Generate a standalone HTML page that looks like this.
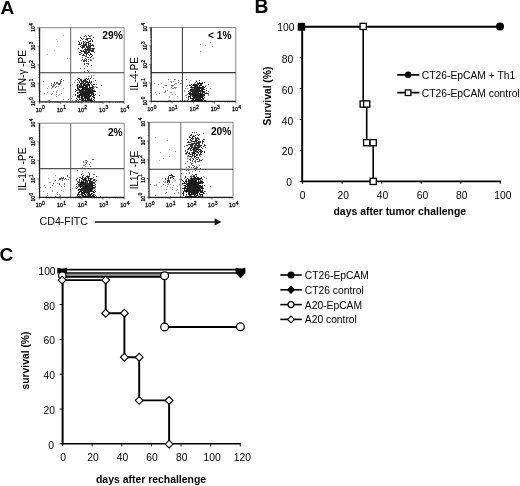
<!DOCTYPE html>
<html><head><meta charset="utf-8"><title>Figure</title>
<style>
html,body{margin:0;padding:0;background:#fff;}
body{width:520px;height:486px;overflow:hidden;}
svg{display:block;}
text{font-family:"Liberation Sans",Arial,Helvetica,sans-serif;fill:#000;}
.b{font-weight:bold;}
</style></head><body>
<svg width="520" height="486" viewBox="0 0 520 486">
<rect width="520" height="486" fill="#fff"/>
<text class="b" x="0.4" y="14.4" font-size="19">A</text>
<text class="b" x="254.5" y="13.2" font-size="19.3">B</text>
<text class="b" x="-0.4" y="261" font-size="19">C</text>
<path d="M39.6 27.7H124.1V101.8" stroke="#777" stroke-width="0.9" fill="none"/>
<path d="M70.7 27.7V101.8" stroke="#666" stroke-width="1" fill="none"/>
<path d="M39.6 72.7H124.1" stroke="#333" stroke-width="1.1" fill="none"/>
<path d="M78 41.5h1M78 44.5h1M78 48.5h1M79 42.5h1M79 43.5h1M79 44.5h1M79 52.5h1M79 54.5h1M80 37.5h1M80 40.5h1M80 44.5h1M80 46.5h1M80 50.5h1M80 52.5h1M81 38.5h1M81 42.5h1M81 43.5h1M81 45.5h1M81 47.5h1M81 50.5h1M81 51.5h1M81 53.5h1M82 39.5h1M82 45.5h1M82 46.5h1M82 47.5h1M82 48.5h1M82 51.5h1M82 55.5h1M83 38.5h1M83 41.5h1M83 42.5h1M83 43.5h1M83 44.5h1M83 45.5h1M83 46.5h1M83 47.5h1M83 50.5h1M83 51.5h1M83 54.5h1M83 55.5h1M84 36.5h1M84 42.5h1M84 44.5h1M84 45.5h1M84 46.5h1M84 47.5h1M84 49.5h1M84 51.5h1M84 52.5h1M84 55.5h1M85 35.5h1M85 39.5h1M85 41.5h1M85 43.5h1M85 44.5h1M85 45.5h1M85 48.5h1M85 49.5h1M85 50.5h1M85 51.5h1M85 52.5h1M85 53.5h1M86 36.5h1M86 38.5h1M86 39.5h1M86 42.5h1M86 43.5h1M86 44.5h1M86 45.5h1M86 46.5h1M86 47.5h1M86 49.5h1M86 50.5h1M86 51.5h1M86 52.5h1M86 54.5h1M87 38.5h1M87 39.5h1M87 40.5h1M87 42.5h1M87 46.5h1M87 47.5h1M87 48.5h1M87 49.5h1M87 50.5h1M87 52.5h1M87 53.5h1M88 35.5h1M88 38.5h1M88 41.5h1M88 42.5h1M88 43.5h1M88 44.5h1M88 45.5h1M88 46.5h1M88 47.5h1M88 48.5h1M88 49.5h1M88 50.5h1M88 51.5h1M88 52.5h1M89 36.5h1M89 38.5h1M89 41.5h1M89 43.5h1M89 45.5h1M89 46.5h1M89 47.5h1M89 48.5h1M89 49.5h1M89 50.5h1M89 51.5h1M89 52.5h1M89 55.5h1M90 36.5h1M90 38.5h1M90 40.5h1M90 41.5h1M90 43.5h1M90 44.5h1M90 45.5h1M90 46.5h1M90 47.5h1M90 49.5h1M90 50.5h1M90 53.5h1M90 54.5h1M91 35.5h1M91 39.5h1M91 45.5h1M91 48.5h1M91 50.5h1M91 51.5h1M91 54.5h1M91 56.5h1M92 40.5h1M92 41.5h1M92 44.5h1M92 45.5h1M92 48.5h1M92 49.5h1M92 50.5h1M92 51.5h1M92 55.5h1M93 37.5h1M93 45.5h1M93 46.5h1M93 48.5h1M93 49.5h1M93 50.5h1M93 51.5h1M94 48.5h1M94 52.5h1" stroke="#000" stroke-width="1.0" stroke-opacity="0.80" fill="none"/>
<path d="M80 54.5h1M80 68.5h1M81 51.5h1M81 60.5h1M82 57.5h1M82 59.5h1M83 54.5h1M83 60.5h1M83 61.5h1M84 52.5h1M84 53.5h1M84 59.5h1M84 60.5h1M84 61.5h1M84 63.5h1M84 64.5h1M84 68.5h1M84 71.5h1M85 56.5h1M85 58.5h1M85 60.5h1M86 53.5h1M86 55.5h1M86 56.5h1M86 59.5h1M86 60.5h1M86 61.5h1M86 63.5h1M87 57.5h1M87 63.5h1M87 66.5h1M87 70.5h1M88 52.5h1M88 54.5h1M88 57.5h1M88 59.5h1M88 61.5h1M88 63.5h1M88 64.5h1M88 71.5h1M90 48.5h1M90 53.5h1M90 54.5h1M90 57.5h1M90 59.5h1M90 60.5h1M91 56.5h1M91 60.5h1M91 65.5h1M93 58.5h1" stroke="#000" stroke-width="1.0" stroke-opacity="0.70" fill="none"/>
<path d="M75 89.5h1M75 91.5h1M75 94.5h1M75 95.5h1M76 90.5h1M76 98.5h1M76 100.5h1M77 79.5h1M77 84.5h1M77 85.5h1M77 86.5h1M77 87.5h1M77 88.5h1M77 92.5h1M77 93.5h1M77 95.5h1M77 96.5h1M77 99.5h1M78 78.5h1M78 80.5h1M78 84.5h1M78 88.5h1M78 89.5h1M78 95.5h1M78 96.5h1M78 97.5h1M78 100.5h1M79 78.5h1M79 81.5h1M79 82.5h1M79 85.5h1M79 86.5h1M79 87.5h1M79 89.5h1M79 90.5h1M79 91.5h1M79 92.5h1M79 94.5h1M79 95.5h1M79 96.5h1M79 97.5h1M79 99.5h1M80 79.5h1M80 80.5h1M80 83.5h1M80 84.5h1M80 86.5h1M80 87.5h1M80 90.5h1M80 91.5h1M80 92.5h1M80 93.5h1M80 94.5h1M80 95.5h1M80 99.5h1M81 79.5h1M81 80.5h1M81 81.5h1M81 82.5h1M81 83.5h1M81 84.5h1M81 85.5h1M81 86.5h1M81 87.5h1M81 89.5h1M81 90.5h1M81 91.5h1M81 92.5h1M81 93.5h1M81 94.5h1M81 95.5h1M81 96.5h1M81 97.5h1M81 98.5h1M81 100.5h1M82 81.5h1M82 83.5h1M82 86.5h1M82 87.5h1M82 88.5h1M82 89.5h1M82 90.5h1M82 91.5h1M82 92.5h1M82 93.5h1M82 94.5h1M82 95.5h1M82 96.5h1M82 97.5h1M82 98.5h1M82 99.5h1M82 100.5h1M83 80.5h1M83 81.5h1M83 82.5h1M83 84.5h1M83 85.5h1M83 86.5h1M83 87.5h1M83 88.5h1M83 89.5h1M83 90.5h1M83 91.5h1M83 92.5h1M83 93.5h1M83 94.5h1M83 95.5h1M83 96.5h1M83 98.5h1M83 99.5h1M83 100.5h1M84 79.5h1M84 80.5h1M84 81.5h1M84 83.5h1M84 84.5h1M84 85.5h1M84 87.5h1M84 88.5h1M84 89.5h1M84 91.5h1M84 92.5h1M84 93.5h1M84 94.5h1M84 95.5h1M84 96.5h1M84 97.5h1M84 98.5h1M84 100.5h1M85 79.5h1M85 80.5h1M85 81.5h1M85 83.5h1M85 85.5h1M85 86.5h1M85 87.5h1M85 88.5h1M85 89.5h1M85 90.5h1M85 91.5h1M85 92.5h1M85 93.5h1M85 94.5h1M85 95.5h1M85 96.5h1M85 97.5h1M85 98.5h1M85 99.5h1M85 100.5h1M85 101.5h1M86 78.5h1M86 81.5h1M86 82.5h1M86 84.5h1M86 85.5h1M86 86.5h1M86 87.5h1M86 88.5h1M86 89.5h1M86 90.5h1M86 91.5h1M86 92.5h1M86 93.5h1M86 94.5h1M86 95.5h1M86 96.5h1M86 97.5h1M86 98.5h1M86 100.5h1M86 101.5h1M87 79.5h1M87 81.5h1M87 82.5h1M87 84.5h1M87 85.5h1M87 86.5h1M87 87.5h1M87 88.5h1M87 89.5h1M87 90.5h1M87 91.5h1M87 92.5h1M87 93.5h1M87 94.5h1M87 95.5h1M87 96.5h1M87 97.5h1M87 98.5h1M87 99.5h1M87 100.5h1M88 78.5h1M88 82.5h1M88 83.5h1M88 84.5h1M88 85.5h1M88 88.5h1M88 89.5h1M88 90.5h1M88 91.5h1M88 92.5h1M88 93.5h1M88 94.5h1M88 95.5h1M88 96.5h1M88 97.5h1M88 98.5h1M88 99.5h1M88 100.5h1M89 80.5h1M89 81.5h1M89 82.5h1M89 84.5h1M89 85.5h1M89 86.5h1M89 87.5h1M89 88.5h1M89 89.5h1M89 90.5h1M89 91.5h1M89 92.5h1M89 93.5h1M89 94.5h1M89 95.5h1M89 96.5h1M89 97.5h1M89 98.5h1M89 99.5h1M89 100.5h1M90 78.5h1M90 83.5h1M90 87.5h1M90 88.5h1M90 89.5h1M90 90.5h1M90 91.5h1M90 92.5h1M90 93.5h1M90 95.5h1M90 96.5h1M90 99.5h1M90 100.5h1M90 101.5h1M91 81.5h1M91 82.5h1M91 84.5h1M91 87.5h1M91 89.5h1M91 90.5h1M91 91.5h1M91 92.5h1M91 93.5h1M91 94.5h1M91 95.5h1M91 98.5h1M91 99.5h1M91 100.5h1M91 101.5h1M92 85.5h1M92 86.5h1M92 87.5h1M92 88.5h1M92 89.5h1M92 90.5h1M92 91.5h1M92 92.5h1M92 93.5h1M92 94.5h1M92 96.5h1M92 100.5h1M93 84.5h1M93 86.5h1M93 88.5h1M93 90.5h1M93 91.5h1M93 93.5h1M93 94.5h1M93 95.5h1M93 96.5h1M93 97.5h1M93 99.5h1M93 101.5h1M94 84.5h1M94 90.5h1M94 91.5h1M94 95.5h1M94 97.5h1M94 98.5h1M94 100.5h1M95 80.5h1M95 91.5h1M95 94.5h1M96 87.5h1" stroke="#000" stroke-width="1.0" stroke-opacity="0.85" fill="none"/>
<path d="M70 85.5h1M72 96.5h1M72 100.5h1M74 82.5h1M75 80.5h1M75 94.5h1M75 100.5h1M76 85.5h1M77 82.5h1M77 89.5h1M77 90.5h1M77 92.5h1M77 97.5h1M78 86.5h1M78 87.5h1M78 89.5h1M78 90.5h1M78 92.5h1M78 93.5h1M79 86.5h1M79 95.5h1M79 96.5h1M79 98.5h1M80 84.5h1M80 85.5h1M80 94.5h1M80 97.5h1M81 85.5h1M81 94.5h1M81 99.5h1M82 82.5h1M82 85.5h1M82 86.5h1M82 89.5h1M82 92.5h1M82 99.5h1M82 100.5h1M83 83.5h1M83 84.5h1M83 88.5h1M83 89.5h1M83 93.5h1M84 85.5h1M84 89.5h1M84 90.5h1M84 94.5h1M84 95.5h1M84 96.5h1M85 78.5h1M85 82.5h1M85 84.5h1M85 85.5h1M85 86.5h1M85 87.5h1M85 93.5h1M85 94.5h1M85 97.5h1M85 100.5h1M86 80.5h1M86 82.5h1M86 89.5h1M86 92.5h1M86 96.5h1M86 97.5h1M87 83.5h1M87 88.5h1M87 92.5h1M87 98.5h1M88 76.5h1M88 79.5h1M88 84.5h1M88 90.5h1M88 92.5h1M88 95.5h1M89 76.5h1M89 81.5h1M89 82.5h1M89 86.5h1M89 88.5h1M89 90.5h1M89 91.5h1M89 93.5h1M89 95.5h1M89 100.5h1M90 82.5h1M90 88.5h1M91 75.5h1M91 76.5h1M91 77.5h1M91 81.5h1M91 84.5h1M91 87.5h1M91 88.5h1M91 97.5h1M91 100.5h1M92 85.5h1M92 90.5h1M92 92.5h1M92 96.5h1M93 75.5h1M93 78.5h1M93 81.5h1M93 87.5h1M93 92.5h1M93 94.5h1M94 87.5h1M94 90.5h1M94 97.5h1M95 86.5h1M95 91.5h1M96 84.5h1M97 87.5h1M99 95.5h1M101 85.5h1" stroke="#000" stroke-width="1.0" stroke-opacity="0.50" fill="none"/>
<path d="M51 83.5h1M51 85.5h1M52 86.5h1M52 87.5h1M53 84.5h1M53 85.5h1M53 86.5h1M54 82.5h1M54 83.5h1M55 84.5h1M55 87.5h1M56 82.5h1M56 83.5h1M56 86.5h1M57 82.5h1M58 83.5h1M58 84.5h1M59 83.5h1M59 84.5h1M60 80.5h1M60 81.5h1M60 82.5h1M60 83.5h1M61 79.5h1M61 81.5h1M63 80.5h1" stroke="#000" stroke-width="1.0" stroke-opacity="0.65" fill="none"/>
<path d="M40 91.5h1M43 81.5h1M44 93.5h1M47 88.5h1M47 92.5h1M48 86.5h1M48 100.5h1M49 100.5h1M51 84.5h1M51 88.5h1M51 94.5h1M52 93.5h1M53 91.5h1M54 83.5h1M54 85.5h1M56 91.5h1M56 92.5h1M56 94.5h1M56 96.5h1M57 83.5h1M57 90.5h1M58 86.5h1M58 95.5h1M59 84.5h1M59 94.5h1M61 93.5h1M63 88.5h1M63 99.5h1M68 99.5h1M71 98.5h1M72 84.5h1M73 94.5h1" stroke="#000" stroke-width="1.0" stroke-opacity="0.40" fill="none"/>
<path d="M47 54.5h1M54 50.5h1M56 39.5h1M57 41.5h1M63 35.5h1M67 58.5h1" stroke="#000" stroke-width="1.0" stroke-opacity="0.30" fill="none"/>
<path d="M39.6 27.7V101.8H124.1" stroke="#222" stroke-width="1.2" fill="none"/>
<path d="M39.60 101.8v2.2M39.6 101.80h-2.2M45.96 101.8v1.1M39.6 96.22h-1.1M49.68 101.8v1.1M39.6 92.96h-1.1M52.32 101.8v1.1M39.6 90.65h-1.1M54.37 101.8v1.1M39.6 88.85h-1.1M56.04 101.8v1.1M39.6 87.38h-1.1M57.45 101.8v1.1M39.6 86.14h-1.1M58.68 101.8v1.1M39.6 85.07h-1.1M59.76 101.8v1.1M39.6 84.12h-1.1M60.73 101.8v2.2M39.6 83.28h-2.2M67.08 101.8v1.1M39.6 77.70h-1.1M70.80 101.8v1.1M39.6 74.44h-1.1M73.44 101.8v1.1M39.6 72.12h-1.1M75.49 101.8v1.1M39.6 70.33h-1.1M77.16 101.8v1.1M39.6 68.86h-1.1M78.58 101.8v1.1M39.6 67.62h-1.1M79.80 101.8v1.1M39.6 66.55h-1.1M80.88 101.8v1.1M39.6 65.60h-1.1M81.85 101.8v2.2M39.6 64.75h-2.2M88.21 101.8v1.1M39.6 59.17h-1.1M91.93 101.8v1.1M39.6 55.91h-1.1M94.57 101.8v1.1M39.6 53.60h-1.1M96.62 101.8v1.1M39.6 51.80h-1.1M98.29 101.8v1.1M39.6 50.33h-1.1M99.70 101.8v1.1M39.6 49.09h-1.1M100.93 101.8v1.1M39.6 48.02h-1.1M102.01 101.8v1.1M39.6 47.07h-1.1M102.97 101.8v2.2M39.6 46.23h-2.2M109.33 101.8v1.1M39.6 40.65h-1.1M113.05 101.8v1.1M39.6 37.39h-1.1M115.69 101.8v1.1M39.6 35.07h-1.1M117.74 101.8v1.1M39.6 33.28h-1.1M119.41 101.8v1.1M39.6 31.81h-1.1M120.83 101.8v1.1M39.6 30.57h-1.1M122.05 101.8v1.1M39.6 29.50h-1.1M123.13 101.8v1.1M39.6 28.55h-1.1M124.10 101.8v2.2M39.6 27.70h-2.2" stroke="#222" stroke-width="0.6" fill="none"/>
<text font-size="5.5" text-anchor="middle" x="40.3" y="111.5" stroke="#111" stroke-width="0.3">10<tspan dx="0.3" dy="-2.4" font-size="5">0</tspan></text>
<g transform="translate(35.2,101.6) rotate(-90)"><text font-size="5" text-anchor="middle" x="0" y="0" stroke="#111" stroke-width="0.3">10<tspan dx="0.5" dy="-2.3" font-size="4.6">0</tspan></text></g>
<text font-size="5.5" text-anchor="middle" x="61.4" y="111.5" stroke="#111" stroke-width="0.3">10<tspan dx="0.3" dy="-2.4" font-size="5">1</tspan></text>
<g transform="translate(35.2,83.1) rotate(-90)"><text font-size="5" text-anchor="middle" x="0" y="0" stroke="#111" stroke-width="0.3">10<tspan dx="0.5" dy="-2.3" font-size="4.6">1</tspan></text></g>
<text font-size="5.5" text-anchor="middle" x="82.5" y="111.5" stroke="#111" stroke-width="0.3">10<tspan dx="0.3" dy="-2.4" font-size="5">2</tspan></text>
<g transform="translate(35.2,64.5) rotate(-90)"><text font-size="5" text-anchor="middle" x="0" y="0" stroke="#111" stroke-width="0.3">10<tspan dx="0.5" dy="-2.3" font-size="4.6">2</tspan></text></g>
<text font-size="5.5" text-anchor="middle" x="103.7" y="111.5" stroke="#111" stroke-width="0.3">10<tspan dx="0.3" dy="-2.4" font-size="5">3</tspan></text>
<g transform="translate(35.2,46.0) rotate(-90)"><text font-size="5" text-anchor="middle" x="0" y="0" stroke="#111" stroke-width="0.3">10<tspan dx="0.5" dy="-2.3" font-size="4.6">3</tspan></text></g>
<text font-size="5.5" text-anchor="middle" x="124.8" y="111.5" stroke="#111" stroke-width="0.3">10<tspan dx="0.3" dy="-2.4" font-size="5">4</tspan></text>
<g transform="translate(35.2,27.5) rotate(-90)"><text font-size="5" text-anchor="middle" x="0" y="0" stroke="#111" stroke-width="0.3">10<tspan dx="0.5" dy="-2.3" font-size="4.6">4</tspan></text></g>
<g transform="translate(25.8,72.1) rotate(-90) scale(1,1.10)"><text font-size="10.05" text-anchor="middle">IFN-γ -PE</text></g>
<text class="b" font-size="10.2" text-anchor="end" x="122.7" y="39.2">29%</text>
<path d="M151.2 27.5H235.8V101.3" stroke="#777" stroke-width="0.9" fill="none"/>
<path d="M182.4 27.5V101.3" stroke="#333" stroke-width="1" fill="none"/>
<path d="M151.2 72.6H235.8" stroke="#333" stroke-width="1.1" fill="none"/>
<path d="M188 91.5h1M188 93.5h1M188 96.5h1M188 97.5h1M188 99.5h1M189 85.5h1M189 92.5h1M189 93.5h1M189 94.5h1M189 96.5h1M190 85.5h1M190 87.5h1M190 89.5h1M190 90.5h1M190 92.5h1M190 93.5h1M190 94.5h1M190 95.5h1M190 96.5h1M190 97.5h1M190 98.5h1M191 84.5h1M191 86.5h1M191 87.5h1M191 89.5h1M191 90.5h1M191 91.5h1M191 93.5h1M191 94.5h1M191 98.5h1M191 100.5h1M192 85.5h1M192 87.5h1M192 89.5h1M192 90.5h1M192 91.5h1M192 92.5h1M192 93.5h1M192 94.5h1M192 95.5h1M192 96.5h1M192 98.5h1M192 99.5h1M192 100.5h1M193 84.5h1M193 85.5h1M193 87.5h1M193 89.5h1M193 90.5h1M193 91.5h1M193 92.5h1M193 93.5h1M193 94.5h1M193 95.5h1M193 96.5h1M193 97.5h1M193 98.5h1M193 99.5h1M193 100.5h1M194 84.5h1M194 85.5h1M194 86.5h1M194 87.5h1M194 88.5h1M194 89.5h1M194 90.5h1M194 91.5h1M194 92.5h1M194 93.5h1M194 94.5h1M194 95.5h1M194 96.5h1M194 97.5h1M194 98.5h1M194 100.5h1M195 82.5h1M195 84.5h1M195 85.5h1M195 86.5h1M195 87.5h1M195 88.5h1M195 89.5h1M195 90.5h1M195 91.5h1M195 92.5h1M195 93.5h1M195 94.5h1M195 95.5h1M195 96.5h1M195 97.5h1M195 98.5h1M195 99.5h1M195 100.5h1M196 81.5h1M196 84.5h1M196 85.5h1M196 86.5h1M196 87.5h1M196 88.5h1M196 89.5h1M196 90.5h1M196 91.5h1M196 92.5h1M196 93.5h1M196 94.5h1M196 95.5h1M196 96.5h1M196 97.5h1M196 98.5h1M196 99.5h1M196 100.5h1M197 83.5h1M197 85.5h1M197 86.5h1M197 87.5h1M197 88.5h1M197 89.5h1M197 90.5h1M197 91.5h1M197 92.5h1M197 93.5h1M197 94.5h1M197 95.5h1M197 96.5h1M197 97.5h1M197 98.5h1M197 99.5h1M197 100.5h1M198 83.5h1M198 84.5h1M198 87.5h1M198 88.5h1M198 89.5h1M198 90.5h1M198 91.5h1M198 92.5h1M198 93.5h1M198 94.5h1M198 95.5h1M198 96.5h1M198 97.5h1M198 98.5h1M198 99.5h1M198 100.5h1M199 80.5h1M199 82.5h1M199 83.5h1M199 85.5h1M199 86.5h1M199 87.5h1M199 88.5h1M199 89.5h1M199 90.5h1M199 91.5h1M199 93.5h1M199 94.5h1M199 95.5h1M199 96.5h1M199 97.5h1M199 98.5h1M199 99.5h1M199 100.5h1M200 83.5h1M200 84.5h1M200 85.5h1M200 87.5h1M200 88.5h1M200 90.5h1M200 91.5h1M200 92.5h1M200 93.5h1M200 94.5h1M200 95.5h1M200 96.5h1M200 97.5h1M200 98.5h1M200 99.5h1M200 100.5h1M201 83.5h1M201 84.5h1M201 85.5h1M201 87.5h1M201 88.5h1M201 89.5h1M201 90.5h1M201 91.5h1M201 93.5h1M201 94.5h1M201 95.5h1M201 96.5h1M201 97.5h1M201 99.5h1M201 100.5h1M202 82.5h1M202 83.5h1M202 86.5h1M202 87.5h1M202 88.5h1M202 89.5h1M202 90.5h1M202 91.5h1M202 92.5h1M202 93.5h1M202 94.5h1M202 95.5h1M202 96.5h1M202 97.5h1M202 98.5h1M202 100.5h1M203 86.5h1M203 87.5h1M203 88.5h1M203 89.5h1M203 91.5h1M203 92.5h1M203 94.5h1M203 95.5h1M203 96.5h1M203 98.5h1M203 99.5h1M204 82.5h1M204 87.5h1M204 89.5h1M204 91.5h1M204 92.5h1M204 94.5h1M204 95.5h1M204 97.5h1M204 100.5h1M205 86.5h1M205 93.5h1M205 100.5h1M206 90.5h1M206 93.5h1M207 93.5h1" stroke="#000" stroke-width="1.0" stroke-opacity="0.85" fill="none"/>
<path d="M184 91.5h1M184 100.5h1M185 88.5h1M185 95.5h1M185 100.5h1M186 79.5h1M186 86.5h1M186 95.5h1M186 97.5h1M187 85.5h1M187 88.5h1M187 94.5h1M187 100.5h1M188 91.5h1M188 98.5h1M189 82.5h1M189 84.5h1M189 90.5h1M190 80.5h1M190 85.5h1M190 90.5h1M190 91.5h1M190 96.5h1M191 88.5h1M191 91.5h1M191 95.5h1M192 85.5h1M192 88.5h1M192 94.5h1M192 98.5h1M193 84.5h1M193 88.5h1M193 92.5h1M193 97.5h1M194 83.5h1M194 84.5h1M194 92.5h1M194 95.5h1M195 85.5h1M195 91.5h1M195 94.5h1M195 95.5h1M195 97.5h1M195 100.5h1M196 80.5h1M196 88.5h1M196 89.5h1M196 90.5h1M196 93.5h1M196 94.5h1M196 95.5h1M196 96.5h1M197 82.5h1M197 84.5h1M197 85.5h1M197 87.5h1M197 90.5h1M197 94.5h1M198 86.5h1M198 100.5h1M199 80.5h1M199 85.5h1M199 86.5h1M199 89.5h1M199 91.5h1M199 96.5h1M199 100.5h1M200 83.5h1M200 85.5h1M200 87.5h1M200 94.5h1M200 95.5h1M200 96.5h1M200 100.5h1M201 90.5h1M201 95.5h1M201 97.5h1M201 100.5h1M202 90.5h1M202 98.5h1M202 99.5h1M202 100.5h1M203 94.5h1M203 98.5h1M204 93.5h1M204 95.5h1M205 85.5h1M206 88.5h1M206 90.5h1M206 92.5h1M208 84.5h1M208 91.5h1M208 93.5h1M208 94.5h1M208 95.5h1M210 88.5h1" stroke="#000" stroke-width="1.0" stroke-opacity="0.50" fill="none"/>
<path d="M163 87.5h1M165 85.5h1M165 91.5h1M166 85.5h1M168 79.5h1M170 81.5h1M171 82.5h1M171 85.5h1M171 87.5h1M172 85.5h1M172 86.5h1M172 88.5h1M173 81.5h1M173 85.5h1M173 88.5h1M174 79.5h1M174 84.5h1M174 87.5h1M175 79.5h1M175 83.5h1M175 87.5h1M176 83.5h1M178 80.5h1M178 82.5h1M180 83.5h1M181 80.5h1M181 83.5h1" stroke="#000" stroke-width="1.0" stroke-opacity="0.50" fill="none"/>
<path d="M154 83.5h1M155 92.5h1M156 94.5h1M158 84.5h1M159 93.5h1M161 83.5h1M164 85.5h1M164 92.5h1M165 90.5h1M165 92.5h1M167 90.5h1M168 100.5h1M169 96.5h1M169 97.5h1M169 100.5h1M170 92.5h1M170 100.5h1M171 81.5h1M171 92.5h1M172 94.5h1M175 88.5h1M175 94.5h1M176 87.5h1M177 96.5h1M180 100.5h1M184 90.5h1" stroke="#000" stroke-width="1.0" stroke-opacity="0.35" fill="none"/>
<path d="M200 44.5h1M200 51.5h1M205 45.5h1M210 42.5h1M212 46.5h1" stroke="#000" stroke-width="1.0" stroke-opacity="0.30" fill="none"/>
<path d="M151.2 27.5V101.3H235.8" stroke="#222" stroke-width="1.2" fill="none"/>
<path d="M151.20 101.3v2.2M151.2 101.30h-2.2M157.57 101.3v1.1M151.2 95.75h-1.1M161.29 101.3v1.1M151.2 92.50h-1.1M163.93 101.3v1.1M151.2 90.19h-1.1M165.98 101.3v1.1M151.2 88.40h-1.1M167.66 101.3v1.1M151.2 86.94h-1.1M169.07 101.3v1.1M151.2 85.71h-1.1M170.30 101.3v1.1M151.2 84.64h-1.1M171.38 101.3v1.1M151.2 83.69h-1.1M172.35 101.3v2.2M151.2 82.85h-2.2M178.72 101.3v1.1M151.2 77.30h-1.1M182.44 101.3v1.1M151.2 74.05h-1.1M185.08 101.3v1.1M151.2 71.74h-1.1M187.13 101.3v1.1M151.2 69.95h-1.1M188.81 101.3v1.1M151.2 68.49h-1.1M190.22 101.3v1.1M151.2 67.26h-1.1M191.45 101.3v1.1M151.2 66.19h-1.1M192.53 101.3v1.1M151.2 65.24h-1.1M193.50 101.3v2.2M151.2 64.40h-2.2M199.87 101.3v1.1M151.2 58.85h-1.1M203.59 101.3v1.1M151.2 55.60h-1.1M206.23 101.3v1.1M151.2 53.29h-1.1M208.28 101.3v1.1M151.2 51.50h-1.1M209.96 101.3v1.1M151.2 50.04h-1.1M211.37 101.3v1.1M151.2 48.81h-1.1M212.60 101.3v1.1M151.2 47.74h-1.1M213.68 101.3v1.1M151.2 46.79h-1.1M214.65 101.3v2.2M151.2 45.95h-2.2M221.02 101.3v1.1M151.2 40.40h-1.1M224.74 101.3v1.1M151.2 37.15h-1.1M227.38 101.3v1.1M151.2 34.84h-1.1M229.43 101.3v1.1M151.2 33.05h-1.1M231.11 101.3v1.1M151.2 31.59h-1.1M232.52 101.3v1.1M151.2 30.36h-1.1M233.75 101.3v1.1M151.2 29.29h-1.1M234.83 101.3v1.1M151.2 28.34h-1.1M235.80 101.3v2.2M151.2 27.50h-2.2" stroke="#222" stroke-width="0.6" fill="none"/>
<text font-size="5.5" text-anchor="middle" x="151.9" y="111.0" stroke="#111" stroke-width="0.3">10<tspan dx="0.3" dy="-2.4" font-size="5">0</tspan></text>
<g transform="translate(146.8,101.1) rotate(-90)"><text font-size="5" text-anchor="middle" x="0" y="0" stroke="#111" stroke-width="0.3">10<tspan dx="0.5" dy="-2.3" font-size="4.6">0</tspan></text></g>
<text font-size="5.5" text-anchor="middle" x="173.0" y="111.0" stroke="#111" stroke-width="0.3">10<tspan dx="0.3" dy="-2.4" font-size="5">1</tspan></text>
<g transform="translate(146.8,82.6) rotate(-90)"><text font-size="5" text-anchor="middle" x="0" y="0" stroke="#111" stroke-width="0.3">10<tspan dx="0.5" dy="-2.3" font-size="4.6">1</tspan></text></g>
<text font-size="5.5" text-anchor="middle" x="194.2" y="111.0" stroke="#111" stroke-width="0.3">10<tspan dx="0.3" dy="-2.4" font-size="5">2</tspan></text>
<g transform="translate(146.8,64.2) rotate(-90)"><text font-size="5" text-anchor="middle" x="0" y="0" stroke="#111" stroke-width="0.3">10<tspan dx="0.5" dy="-2.3" font-size="4.6">2</tspan></text></g>
<text font-size="5.5" text-anchor="middle" x="215.3" y="111.0" stroke="#111" stroke-width="0.3">10<tspan dx="0.3" dy="-2.4" font-size="5">3</tspan></text>
<g transform="translate(146.8,45.8) rotate(-90)"><text font-size="5" text-anchor="middle" x="0" y="0" stroke="#111" stroke-width="0.3">10<tspan dx="0.5" dy="-2.3" font-size="4.6">3</tspan></text></g>
<text font-size="5.5" text-anchor="middle" x="236.5" y="111.0" stroke="#111" stroke-width="0.3">10<tspan dx="0.3" dy="-2.4" font-size="5">4</tspan></text>
<g transform="translate(146.8,27.3) rotate(-90)"><text font-size="5" text-anchor="middle" x="0" y="0" stroke="#111" stroke-width="0.3">10<tspan dx="0.5" dy="-2.3" font-size="4.6">4</tspan></text></g>
<g transform="translate(138.4,73.8) rotate(-90) scale(1,1.10)"><text font-size="9.85" text-anchor="middle">IL-4-PE</text></g>
<text class="b" font-size="10.2" text-anchor="end" x="231.6" y="39.2">&lt; 1%</text>
<path d="M39.6 123.2H124.2V197.4" stroke="#777" stroke-width="0.9" fill="none"/>
<path d="M70.7 123.2V197.4" stroke="#666" stroke-width="1" fill="none"/>
<path d="M39.6 168.6H124.2" stroke="#555" stroke-width="1.1" fill="none"/>
<path d="M76 179.5h1M76 184.5h1M76 186.5h1M76 188.5h1M77 178.5h1M77 181.5h1M77 183.5h1M77 187.5h1M77 194.5h1M77 195.5h1M78 182.5h1M78 184.5h1M78 186.5h1M78 189.5h1M78 190.5h1M78 192.5h1M78 193.5h1M78 194.5h1M78 196.5h1M79 179.5h1M79 180.5h1M79 182.5h1M79 184.5h1M79 185.5h1M79 189.5h1M79 191.5h1M79 192.5h1M79 196.5h1M80 177.5h1M80 182.5h1M80 183.5h1M80 184.5h1M80 185.5h1M80 186.5h1M80 187.5h1M80 189.5h1M80 190.5h1M80 191.5h1M80 196.5h1M81 174.5h1M81 178.5h1M81 180.5h1M81 181.5h1M81 182.5h1M81 183.5h1M81 184.5h1M81 185.5h1M81 186.5h1M81 188.5h1M81 189.5h1M81 190.5h1M81 191.5h1M81 192.5h1M81 193.5h1M81 194.5h1M82 176.5h1M82 177.5h1M82 178.5h1M82 179.5h1M82 181.5h1M82 182.5h1M82 183.5h1M82 184.5h1M82 185.5h1M82 186.5h1M82 187.5h1M82 188.5h1M82 189.5h1M82 190.5h1M82 192.5h1M82 193.5h1M82 194.5h1M82 195.5h1M82 196.5h1M83 175.5h1M83 179.5h1M83 180.5h1M83 181.5h1M83 182.5h1M83 183.5h1M83 184.5h1M83 185.5h1M83 186.5h1M83 187.5h1M83 188.5h1M83 189.5h1M83 190.5h1M83 191.5h1M83 192.5h1M83 193.5h1M83 195.5h1M83 196.5h1M84 178.5h1M84 179.5h1M84 180.5h1M84 182.5h1M84 183.5h1M84 184.5h1M84 185.5h1M84 186.5h1M84 187.5h1M84 188.5h1M84 189.5h1M84 190.5h1M84 191.5h1M84 192.5h1M84 193.5h1M84 194.5h1M84 196.5h1M85 177.5h1M85 178.5h1M85 179.5h1M85 180.5h1M85 181.5h1M85 182.5h1M85 183.5h1M85 184.5h1M85 185.5h1M85 186.5h1M85 187.5h1M85 188.5h1M85 189.5h1M85 190.5h1M85 191.5h1M85 192.5h1M85 194.5h1M85 195.5h1M85 196.5h1M86 176.5h1M86 178.5h1M86 180.5h1M86 181.5h1M86 183.5h1M86 184.5h1M86 185.5h1M86 186.5h1M86 187.5h1M86 188.5h1M86 189.5h1M86 190.5h1M86 191.5h1M86 192.5h1M86 193.5h1M86 196.5h1M87 176.5h1M87 177.5h1M87 181.5h1M87 182.5h1M87 183.5h1M87 184.5h1M87 185.5h1M87 186.5h1M87 187.5h1M87 188.5h1M87 189.5h1M87 190.5h1M87 191.5h1M87 192.5h1M87 194.5h1M87 196.5h1M88 176.5h1M88 177.5h1M88 178.5h1M88 179.5h1M88 180.5h1M88 183.5h1M88 184.5h1M88 185.5h1M88 186.5h1M88 187.5h1M88 188.5h1M88 189.5h1M88 190.5h1M88 191.5h1M88 192.5h1M88 193.5h1M88 194.5h1M88 195.5h1M88 196.5h1M89 174.5h1M89 176.5h1M89 178.5h1M89 180.5h1M89 181.5h1M89 182.5h1M89 183.5h1M89 184.5h1M89 185.5h1M89 186.5h1M89 187.5h1M89 188.5h1M89 189.5h1M89 190.5h1M89 191.5h1M89 192.5h1M89 193.5h1M89 194.5h1M89 195.5h1M89 196.5h1M90 178.5h1M90 179.5h1M90 180.5h1M90 181.5h1M90 182.5h1M90 183.5h1M90 184.5h1M90 185.5h1M90 186.5h1M90 187.5h1M90 188.5h1M90 189.5h1M90 190.5h1M90 191.5h1M90 194.5h1M90 195.5h1M90 196.5h1M91 178.5h1M91 181.5h1M91 182.5h1M91 183.5h1M91 184.5h1M91 185.5h1M91 186.5h1M91 187.5h1M91 188.5h1M91 189.5h1M91 190.5h1M91 191.5h1M91 193.5h1M91 194.5h1M91 196.5h1M92 181.5h1M92 182.5h1M92 183.5h1M92 184.5h1M92 185.5h1M92 186.5h1M92 187.5h1M92 188.5h1M92 189.5h1M92 191.5h1M92 193.5h1M92 195.5h1M92 196.5h1M93 177.5h1M93 179.5h1M93 180.5h1M93 182.5h1M93 185.5h1M93 187.5h1M93 188.5h1M93 191.5h1M93 192.5h1M93 194.5h1M93 195.5h1M93 196.5h1M94 179.5h1M94 180.5h1M94 182.5h1M94 183.5h1M94 185.5h1M94 187.5h1M94 188.5h1M94 190.5h1M94 192.5h1M94 194.5h1M94 196.5h1M95 181.5h1M95 184.5h1M95 186.5h1M95 191.5h1M95 195.5h1M96 176.5h1" stroke="#000" stroke-width="1.0" stroke-opacity="0.85" fill="none"/>
<path d="M75 187.5h1M76 180.5h1M76 196.5h1M77 170.5h1M77 196.5h1M78 181.5h1M78 185.5h1M78 193.5h1M78 194.5h1M79 177.5h1M79 180.5h1M79 181.5h1M79 183.5h1M79 185.5h1M79 186.5h1M79 188.5h1M79 194.5h1M79 195.5h1M80 177.5h1M80 184.5h1M80 185.5h1M80 186.5h1M80 191.5h1M80 194.5h1M80 196.5h1M81 182.5h1M81 191.5h1M81 194.5h1M81 195.5h1M82 171.5h1M82 173.5h1M82 176.5h1M82 183.5h1M82 186.5h1M82 188.5h1M82 190.5h1M82 192.5h1M83 177.5h1M83 182.5h1M83 192.5h1M83 196.5h1M84 187.5h1M84 188.5h1M84 192.5h1M84 194.5h1M84 196.5h1M85 181.5h1M85 182.5h1M85 186.5h1M85 187.5h1M85 188.5h1M85 194.5h1M85 196.5h1M86 179.5h1M86 182.5h1M86 186.5h1M86 195.5h1M86 196.5h1M87 175.5h1M87 177.5h1M87 180.5h1M87 181.5h1M87 186.5h1M87 189.5h1M87 193.5h1M87 195.5h1M87 196.5h1M88 172.5h1M88 187.5h1M88 193.5h1M89 173.5h1M89 175.5h1M89 180.5h1M89 183.5h1M89 185.5h1M89 189.5h1M89 196.5h1M91 179.5h1M91 184.5h1M91 185.5h1M91 188.5h1M92 178.5h1M92 186.5h1M92 190.5h1M93 174.5h1M93 183.5h1M93 192.5h1M93 196.5h1M94 174.5h1M94 192.5h1M95 179.5h1M95 184.5h1M95 187.5h1M95 189.5h1M96 180.5h1M96 196.5h1M100 196.5h1" stroke="#000" stroke-width="1.0" stroke-opacity="0.50" fill="none"/>
<path d="M82 167.5h1M83 161.5h1M83 162.5h1M83 165.5h1M84 165.5h1M84 168.5h1M85 160.5h1M85 162.5h1M85 164.5h1M85 166.5h1M86 160.5h1M86 162.5h1M86 163.5h1M87 161.5h1M88 168.5h1M89 164.5h1M90 162.5h1M90 166.5h1M92 159.5h1M93 159.5h1" stroke="#000" stroke-width="1.0" stroke-opacity="0.60" fill="none"/>
<path d="M53 183.5h1M55 180.5h1M59 178.5h1M59 179.5h1M59 183.5h1M59 184.5h1M60 178.5h1M60 179.5h1M61 177.5h1M61 178.5h1M62 178.5h1M62 179.5h1M62 180.5h1M63 177.5h1M63 178.5h1M64 179.5h1M64 183.5h1M65 178.5h1M67 175.5h1M67 176.5h1M68 179.5h1M69 177.5h1" stroke="#000" stroke-width="1.0" stroke-opacity="0.65" fill="none"/>
<path d="M40 187.5h1M43 191.5h1M44 185.5h1M45 187.5h1M46 196.5h1M47 193.5h1M47 195.5h1M48 178.5h1M49 182.5h1M50 182.5h1M50 187.5h1M52 185.5h1M52 190.5h1M52 191.5h1M55 175.5h1M55 196.5h1M57 183.5h1M57 192.5h1M57 194.5h1M59 194.5h1M59 196.5h1M60 195.5h1M60 196.5h1M61 186.5h1M61 190.5h1M63 191.5h1M64 184.5h1M64 186.5h1M66 179.5h1M70 189.5h1M72 188.5h1" stroke="#000" stroke-width="1.0" stroke-opacity="0.40" fill="none"/>
<path d="M39.6 123.2V197.4H124.2" stroke="#222" stroke-width="1.2" fill="none"/>
<path d="M39.60 197.4v2.2M39.6 197.40h-2.2M45.97 197.4v1.1M39.6 191.82h-1.1M49.69 197.4v1.1M39.6 188.55h-1.1M52.33 197.4v1.1M39.6 186.23h-1.1M54.38 197.4v1.1M39.6 184.43h-1.1M56.06 197.4v1.1M39.6 182.97h-1.1M57.47 197.4v1.1M39.6 181.72h-1.1M58.70 197.4v1.1M39.6 180.65h-1.1M59.78 197.4v1.1M39.6 179.70h-1.1M60.75 197.4v2.2M39.6 178.85h-2.2M67.12 197.4v1.1M39.6 173.27h-1.1M70.84 197.4v1.1M39.6 170.00h-1.1M73.48 197.4v1.1M39.6 167.68h-1.1M75.53 197.4v1.1M39.6 165.88h-1.1M77.21 197.4v1.1M39.6 164.42h-1.1M78.62 197.4v1.1M39.6 163.17h-1.1M79.85 197.4v1.1M39.6 162.10h-1.1M80.93 197.4v1.1M39.6 161.15h-1.1M81.90 197.4v2.2M39.6 160.30h-2.2M88.27 197.4v1.1M39.6 154.72h-1.1M91.99 197.4v1.1M39.6 151.45h-1.1M94.63 197.4v1.1M39.6 149.13h-1.1M96.68 197.4v1.1M39.6 147.33h-1.1M98.36 197.4v1.1M39.6 145.87h-1.1M99.77 197.4v1.1M39.6 144.62h-1.1M101.00 197.4v1.1M39.6 143.55h-1.1M102.08 197.4v1.1M39.6 142.60h-1.1M103.05 197.4v2.2M39.6 141.75h-2.2M109.42 197.4v1.1M39.6 136.17h-1.1M113.14 197.4v1.1M39.6 132.90h-1.1M115.78 197.4v1.1M39.6 130.58h-1.1M117.83 197.4v1.1M39.6 128.78h-1.1M119.51 197.4v1.1M39.6 127.32h-1.1M120.92 197.4v1.1M39.6 126.07h-1.1M122.15 197.4v1.1M39.6 125.00h-1.1M123.23 197.4v1.1M39.6 124.05h-1.1M124.20 197.4v2.2M39.6 123.20h-2.2" stroke="#222" stroke-width="0.6" fill="none"/>
<text font-size="5.5" text-anchor="middle" x="40.3" y="207.1" stroke="#111" stroke-width="0.3">10<tspan dx="0.3" dy="-2.4" font-size="5">0</tspan></text>
<g transform="translate(35.2,197.2) rotate(-90)"><text font-size="5" text-anchor="middle" x="0" y="0" stroke="#111" stroke-width="0.3">10<tspan dx="0.5" dy="-2.3" font-size="4.6">0</tspan></text></g>
<text font-size="5.5" text-anchor="middle" x="61.5" y="207.1" stroke="#111" stroke-width="0.3">10<tspan dx="0.3" dy="-2.4" font-size="5">1</tspan></text>
<g transform="translate(35.2,178.7) rotate(-90)"><text font-size="5" text-anchor="middle" x="0" y="0" stroke="#111" stroke-width="0.3">10<tspan dx="0.5" dy="-2.3" font-size="4.6">1</tspan></text></g>
<text font-size="5.5" text-anchor="middle" x="82.6" y="207.1" stroke="#111" stroke-width="0.3">10<tspan dx="0.3" dy="-2.4" font-size="5">2</tspan></text>
<g transform="translate(35.2,160.1) rotate(-90)"><text font-size="5" text-anchor="middle" x="0" y="0" stroke="#111" stroke-width="0.3">10<tspan dx="0.5" dy="-2.3" font-size="4.6">2</tspan></text></g>
<text font-size="5.5" text-anchor="middle" x="103.8" y="207.1" stroke="#111" stroke-width="0.3">10<tspan dx="0.3" dy="-2.4" font-size="5">3</tspan></text>
<g transform="translate(35.2,141.6) rotate(-90)"><text font-size="5" text-anchor="middle" x="0" y="0" stroke="#111" stroke-width="0.3">10<tspan dx="0.5" dy="-2.3" font-size="4.6">3</tspan></text></g>
<text font-size="5.5" text-anchor="middle" x="124.9" y="207.1" stroke="#111" stroke-width="0.3">10<tspan dx="0.3" dy="-2.4" font-size="5">4</tspan></text>
<g transform="translate(35.2,123.0) rotate(-90)"><text font-size="5" text-anchor="middle" x="0" y="0" stroke="#111" stroke-width="0.3">10<tspan dx="0.5" dy="-2.3" font-size="4.6">4</tspan></text></g>
<g transform="translate(26.0,169.0) rotate(-90) scale(1,1.10)"><text font-size="10.20" text-anchor="middle">IL-10 -PE</text></g>
<text class="b" font-size="10.2" text-anchor="end" x="122.7" y="135.8">2%</text>
<path d="M149.0 122.3H233.0V197.3" stroke="#777" stroke-width="0.9" fill="none"/>
<path d="M180.8 122.3V197.3" stroke="#666" stroke-width="1" fill="none"/>
<path d="M149.0 169.2H233.0" stroke="#333" stroke-width="1.1" fill="none"/>
<path d="M184 146.5h1M185 150.5h1M185 153.5h1M186 145.5h1M186 153.5h1M187 139.5h1M187 142.5h1M187 145.5h1M187 149.5h1M187 151.5h1M187 152.5h1M188 141.5h1M188 142.5h1M188 144.5h1M188 148.5h1M188 149.5h1M188 153.5h1M188 155.5h1M189 136.5h1M189 137.5h1M189 142.5h1M189 144.5h1M189 147.5h1M189 148.5h1M189 152.5h1M189 153.5h1M190 135.5h1M190 137.5h1M190 139.5h1M190 140.5h1M190 142.5h1M190 144.5h1M190 145.5h1M190 146.5h1M190 148.5h1M190 149.5h1M190 150.5h1M190 154.5h1M190 156.5h1M191 134.5h1M191 135.5h1M191 138.5h1M191 140.5h1M191 141.5h1M191 143.5h1M191 144.5h1M191 145.5h1M191 146.5h1M191 147.5h1M191 148.5h1M191 150.5h1M192 132.5h1M192 136.5h1M192 137.5h1M192 138.5h1M192 139.5h1M192 141.5h1M192 143.5h1M192 144.5h1M192 145.5h1M192 146.5h1M192 147.5h1M192 149.5h1M192 152.5h1M192 153.5h1M192 154.5h1M192 155.5h1M193 135.5h1M193 136.5h1M193 138.5h1M193 141.5h1M193 143.5h1M193 144.5h1M193 147.5h1M193 148.5h1M193 149.5h1M193 150.5h1M193 151.5h1M193 152.5h1M193 153.5h1M193 159.5h1M194 132.5h1M194 136.5h1M194 141.5h1M194 142.5h1M194 143.5h1M194 145.5h1M194 146.5h1M194 147.5h1M194 148.5h1M194 149.5h1M194 150.5h1M194 152.5h1M194 153.5h1M194 154.5h1M194 156.5h1M195 135.5h1M195 137.5h1M195 138.5h1M195 139.5h1M195 140.5h1M195 141.5h1M195 143.5h1M195 144.5h1M195 145.5h1M195 146.5h1M195 147.5h1M195 148.5h1M195 150.5h1M195 151.5h1M195 153.5h1M195 156.5h1M196 132.5h1M196 138.5h1M196 139.5h1M196 140.5h1M196 141.5h1M196 142.5h1M196 143.5h1M196 144.5h1M196 145.5h1M196 147.5h1M196 148.5h1M196 149.5h1M196 150.5h1M196 151.5h1M196 154.5h1M196 155.5h1M196 157.5h1M197 134.5h1M197 137.5h1M197 138.5h1M197 140.5h1M197 142.5h1M197 143.5h1M197 145.5h1M197 146.5h1M197 147.5h1M197 148.5h1M197 149.5h1M197 151.5h1M197 152.5h1M197 154.5h1M197 159.5h1M198 135.5h1M198 138.5h1M198 139.5h1M198 141.5h1M198 142.5h1M198 143.5h1M198 144.5h1M198 145.5h1M198 146.5h1M198 147.5h1M198 149.5h1M198 150.5h1M198 152.5h1M198 153.5h1M199 134.5h1M199 139.5h1M199 141.5h1M199 142.5h1M199 143.5h1M199 144.5h1M199 145.5h1M199 146.5h1M199 147.5h1M199 149.5h1M199 151.5h1M199 155.5h1M199 159.5h1M200 141.5h1M200 142.5h1M200 145.5h1M200 146.5h1M200 149.5h1M200 150.5h1M200 151.5h1M200 152.5h1M200 153.5h1M200 154.5h1M201 145.5h1M201 147.5h1M201 150.5h1M201 151.5h1M201 152.5h1M201 154.5h1M202 140.5h1M202 141.5h1M202 142.5h1M202 143.5h1M202 148.5h1M202 151.5h1M203 133.5h1M203 139.5h1M203 141.5h1M203 146.5h1M204 139.5h1M204 144.5h1M204 145.5h1M204 151.5h1M204 152.5h1M205 145.5h1M205 147.5h1" stroke="#000" stroke-width="1.0" stroke-opacity="0.80" fill="none"/>
<path d="M185 151.5h1M185 163.5h1M186 152.5h1M186 154.5h1M186 167.5h1M187 156.5h1M187 158.5h1M187 161.5h1M188 156.5h1M188 166.5h1M188 170.5h1M189 153.5h1M189 154.5h1M189 156.5h1M189 159.5h1M189 166.5h1M189 167.5h1M190 149.5h1M190 156.5h1M190 158.5h1M190 159.5h1M190 160.5h1M190 162.5h1M191 152.5h1M191 154.5h1M191 156.5h1M191 157.5h1M191 163.5h1M191 164.5h1M191 167.5h1M192 154.5h1M192 156.5h1M192 158.5h1M192 160.5h1M192 161.5h1M192 163.5h1M192 165.5h1M192 171.5h1M193 147.5h1M193 149.5h1M193 152.5h1M193 153.5h1M193 155.5h1M193 158.5h1M193 159.5h1M193 165.5h1M193 167.5h1M194 148.5h1M194 151.5h1M194 152.5h1M194 153.5h1M194 155.5h1M194 156.5h1M194 157.5h1M194 161.5h1M194 166.5h1M194 168.5h1M195 147.5h1M195 149.5h1M195 151.5h1M195 153.5h1M195 158.5h1M195 160.5h1M195 161.5h1M195 162.5h1M195 168.5h1M195 170.5h1M196 149.5h1M196 152.5h1M196 154.5h1M196 159.5h1M196 166.5h1M196 167.5h1M196 168.5h1M196 169.5h1M197 155.5h1M197 157.5h1M197 159.5h1M197 161.5h1M197 167.5h1M198 148.5h1M198 157.5h1M198 158.5h1M198 161.5h1M199 149.5h1M199 154.5h1M199 160.5h1M199 161.5h1M199 165.5h1M199 171.5h1M200 156.5h1M200 160.5h1M200 168.5h1M201 160.5h1M202 151.5h1M202 159.5h1M204 152.5h1" stroke="#000" stroke-width="1.0" stroke-opacity="0.65" fill="none"/>
<path d="M181 179.5h1M182 180.5h1M182 183.5h1M182 188.5h1M183 181.5h1M183 183.5h1M183 188.5h1M183 191.5h1M183 192.5h1M183 193.5h1M183 194.5h1M183 195.5h1M184 182.5h1M184 183.5h1M184 185.5h1M184 187.5h1M184 188.5h1M184 189.5h1M184 190.5h1M185 176.5h1M185 177.5h1M185 181.5h1M185 183.5h1M185 185.5h1M185 186.5h1M185 187.5h1M185 188.5h1M185 190.5h1M185 191.5h1M185 196.5h1M186 179.5h1M186 180.5h1M186 181.5h1M186 182.5h1M186 184.5h1M186 186.5h1M186 188.5h1M186 189.5h1M186 190.5h1M186 191.5h1M186 192.5h1M186 194.5h1M186 196.5h1M187 178.5h1M187 183.5h1M187 184.5h1M187 185.5h1M187 186.5h1M187 187.5h1M187 188.5h1M187 189.5h1M187 190.5h1M187 191.5h1M187 196.5h1M188 179.5h1M188 180.5h1M188 181.5h1M188 182.5h1M188 183.5h1M188 184.5h1M188 185.5h1M188 186.5h1M188 187.5h1M188 188.5h1M188 189.5h1M188 190.5h1M188 191.5h1M188 192.5h1M188 193.5h1M188 194.5h1M188 196.5h1M189 180.5h1M189 181.5h1M189 182.5h1M189 183.5h1M189 184.5h1M189 185.5h1M189 186.5h1M189 187.5h1M189 188.5h1M189 189.5h1M189 190.5h1M189 191.5h1M189 192.5h1M189 193.5h1M189 194.5h1M189 195.5h1M189 196.5h1M190 176.5h1M190 178.5h1M190 180.5h1M190 181.5h1M190 182.5h1M190 183.5h1M190 184.5h1M190 185.5h1M190 186.5h1M190 187.5h1M190 188.5h1M190 189.5h1M190 190.5h1M190 191.5h1M190 192.5h1M190 194.5h1M190 195.5h1M190 196.5h1M191 177.5h1M191 178.5h1M191 179.5h1M191 180.5h1M191 181.5h1M191 182.5h1M191 183.5h1M191 184.5h1M191 185.5h1M191 186.5h1M191 187.5h1M191 188.5h1M191 189.5h1M191 190.5h1M191 191.5h1M191 192.5h1M191 193.5h1M191 194.5h1M191 196.5h1M192 178.5h1M192 179.5h1M192 180.5h1M192 181.5h1M192 182.5h1M192 183.5h1M192 184.5h1M192 185.5h1M192 186.5h1M192 187.5h1M192 188.5h1M192 189.5h1M192 190.5h1M192 191.5h1M192 192.5h1M192 193.5h1M192 194.5h1M192 196.5h1M193 176.5h1M193 178.5h1M193 179.5h1M193 180.5h1M193 181.5h1M193 182.5h1M193 183.5h1M193 184.5h1M193 185.5h1M193 186.5h1M193 187.5h1M193 188.5h1M193 189.5h1M193 190.5h1M193 191.5h1M193 192.5h1M193 193.5h1M193 194.5h1M193 196.5h1M194 175.5h1M194 176.5h1M194 177.5h1M194 178.5h1M194 179.5h1M194 180.5h1M194 181.5h1M194 182.5h1M194 183.5h1M194 184.5h1M194 185.5h1M194 186.5h1M194 187.5h1M194 188.5h1M194 189.5h1M194 190.5h1M194 191.5h1M194 192.5h1M194 193.5h1M194 194.5h1M194 195.5h1M194 196.5h1M195 174.5h1M195 177.5h1M195 178.5h1M195 179.5h1M195 180.5h1M195 181.5h1M195 182.5h1M195 183.5h1M195 184.5h1M195 185.5h1M195 186.5h1M195 187.5h1M195 188.5h1M195 189.5h1M195 190.5h1M195 191.5h1M195 192.5h1M195 193.5h1M195 194.5h1M195 196.5h1M196 174.5h1M196 176.5h1M196 178.5h1M196 179.5h1M196 180.5h1M196 181.5h1M196 182.5h1M196 183.5h1M196 184.5h1M196 185.5h1M196 186.5h1M196 187.5h1M196 188.5h1M196 189.5h1M196 190.5h1M196 191.5h1M196 192.5h1M196 193.5h1M196 195.5h1M196 196.5h1M197 177.5h1M197 178.5h1M197 179.5h1M197 182.5h1M197 183.5h1M197 184.5h1M197 185.5h1M197 186.5h1M197 187.5h1M197 188.5h1M197 189.5h1M197 190.5h1M197 191.5h1M197 192.5h1M197 193.5h1M197 194.5h1M197 195.5h1M198 177.5h1M198 178.5h1M198 179.5h1M198 180.5h1M198 181.5h1M198 182.5h1M198 183.5h1M198 184.5h1M198 185.5h1M198 186.5h1M198 187.5h1M198 188.5h1M198 189.5h1M198 190.5h1M198 191.5h1M198 192.5h1M198 196.5h1M199 178.5h1M199 179.5h1M199 182.5h1M199 183.5h1M199 185.5h1M199 186.5h1M199 187.5h1M199 188.5h1M199 189.5h1M199 190.5h1M199 193.5h1M199 194.5h1M199 196.5h1M200 178.5h1M200 180.5h1M200 181.5h1M200 182.5h1M200 183.5h1M200 185.5h1M200 186.5h1M200 187.5h1M200 189.5h1M200 190.5h1M200 191.5h1M200 192.5h1M200 194.5h1M200 195.5h1M201 177.5h1M201 178.5h1M201 181.5h1M201 182.5h1M201 186.5h1M201 187.5h1M201 188.5h1M201 191.5h1M201 192.5h1M201 194.5h1M202 179.5h1M202 181.5h1M202 182.5h1M202 183.5h1M202 185.5h1M202 186.5h1M202 187.5h1M202 188.5h1M202 189.5h1M202 190.5h1M202 191.5h1M202 192.5h1M202 194.5h1M202 195.5h1M202 196.5h1M203 182.5h1M203 188.5h1M203 192.5h1M203 193.5h1M204 185.5h1M204 191.5h1" stroke="#000" stroke-width="1.0" stroke-opacity="0.88" fill="none"/>
<path d="M175 180.5h1M177 189.5h1M179 179.5h1M179 184.5h1M180 196.5h1M182 184.5h1M182 193.5h1M183 185.5h1M184 178.5h1M184 182.5h1M184 185.5h1M184 187.5h1M184 191.5h1M185 180.5h1M185 183.5h1M185 187.5h1M185 190.5h1M185 196.5h1M186 170.5h1M186 173.5h1M186 179.5h1M186 183.5h1M186 184.5h1M186 190.5h1M186 191.5h1M186 195.5h1M187 178.5h1M187 181.5h1M187 185.5h1M188 179.5h1M188 183.5h1M188 193.5h1M188 196.5h1M189 172.5h1M189 173.5h1M189 179.5h1M189 182.5h1M189 190.5h1M190 178.5h1M190 179.5h1M190 180.5h1M190 183.5h1M190 185.5h1M190 188.5h1M190 194.5h1M190 196.5h1M191 175.5h1M191 176.5h1M191 178.5h1M191 179.5h1M191 182.5h1M191 183.5h1M191 185.5h1M191 193.5h1M191 194.5h1M191 195.5h1M191 196.5h1M192 174.5h1M192 176.5h1M192 181.5h1M192 183.5h1M193 175.5h1M193 176.5h1M193 177.5h1M193 181.5h1M193 184.5h1M193 185.5h1M193 187.5h1M193 189.5h1M193 190.5h1M194 176.5h1M194 183.5h1M194 184.5h1M194 190.5h1M194 192.5h1M194 193.5h1M194 195.5h1M195 178.5h1M195 181.5h1M195 182.5h1M195 184.5h1M195 191.5h1M195 195.5h1M195 196.5h1M196 175.5h1M196 178.5h1M196 180.5h1M196 182.5h1M196 186.5h1M196 191.5h1M197 179.5h1M197 182.5h1M197 184.5h1M197 186.5h1M197 187.5h1M197 190.5h1M198 179.5h1M198 181.5h1M198 184.5h1M198 190.5h1M198 195.5h1M198 196.5h1M199 179.5h1M199 181.5h1M199 183.5h1M199 191.5h1M199 196.5h1M200 179.5h1M200 188.5h1M200 189.5h1M200 190.5h1M200 196.5h1M201 178.5h1M201 180.5h1M201 183.5h1M201 186.5h1M201 190.5h1M201 196.5h1M202 183.5h1M203 176.5h1M204 177.5h1M204 185.5h1M204 193.5h1M205 169.5h1M205 191.5h1M206 178.5h1M206 193.5h1M210 186.5h1" stroke="#000" stroke-width="1.0" stroke-opacity="0.50" fill="none"/>
<path d="M163 184.5h1M165 178.5h1M165 179.5h1M167 180.5h1M167 181.5h1M167 182.5h1M168 176.5h1M168 177.5h1M168 178.5h1M168 179.5h1M168 180.5h1M168 181.5h1M169 175.5h1M169 180.5h1M169 181.5h1M169 182.5h1M170 175.5h1M170 177.5h1M170 178.5h1M171 174.5h1M171 175.5h1M171 177.5h1M172 175.5h1M172 176.5h1M172 177.5h1M173 176.5h1M173 178.5h1M174 176.5h1" stroke="#000" stroke-width="1.0" stroke-opacity="0.80" fill="none"/>
<path d="M150 184.5h1M154 185.5h1M155 195.5h1M156 184.5h1M156 185.5h1M159 182.5h1M161 186.5h1M162 178.5h1M163 181.5h1M164 182.5h1M165 181.5h1M165 182.5h1M165 185.5h1M165 193.5h1M166 189.5h1M166 192.5h1M167 178.5h1M167 184.5h1M167 186.5h1M168 178.5h1M168 183.5h1M168 184.5h1M170 184.5h1M170 187.5h1M170 196.5h1M172 175.5h1M172 182.5h1M172 187.5h1M172 189.5h1M173 185.5h1M174 179.5h1M174 181.5h1M174 193.5h1M176 190.5h1M178 192.5h1M178 193.5h1M181 173.5h1M182 190.5h1M186 190.5h1" stroke="#000" stroke-width="1.0" stroke-opacity="0.40" fill="none"/>
<path d="M155 137.5h1M159 160.5h1M160 152.5h1M163 158.5h1M167 140.5h1M169 149.5h1M169 156.5h1M175 151.5h1" stroke="#000" stroke-width="1.0" stroke-opacity="0.35" fill="none"/>
<path d="M149.0 122.3V197.3H233.0" stroke="#222" stroke-width="1.2" fill="none"/>
<path d="M149.00 197.3v2.2M149.0 197.30h-2.2M155.32 197.3v1.1M149.0 191.66h-1.1M159.02 197.3v1.1M149.0 188.35h-1.1M161.64 197.3v1.1M149.0 186.01h-1.1M163.68 197.3v1.1M149.0 184.19h-1.1M165.34 197.3v1.1M149.0 182.71h-1.1M166.75 197.3v1.1M149.0 181.45h-1.1M167.96 197.3v1.1M149.0 180.37h-1.1M169.04 197.3v1.1M149.0 179.41h-1.1M170.00 197.3v2.2M149.0 178.55h-2.2M176.32 197.3v1.1M149.0 172.91h-1.1M180.02 197.3v1.1M149.0 169.60h-1.1M182.64 197.3v1.1M149.0 167.26h-1.1M184.68 197.3v1.1M149.0 165.44h-1.1M186.34 197.3v1.1M149.0 163.96h-1.1M187.75 197.3v1.1M149.0 162.70h-1.1M188.96 197.3v1.1M149.0 161.62h-1.1M190.04 197.3v1.1M149.0 160.66h-1.1M191.00 197.3v2.2M149.0 159.80h-2.2M197.32 197.3v1.1M149.0 154.16h-1.1M201.02 197.3v1.1M149.0 150.85h-1.1M203.64 197.3v1.1M149.0 148.51h-1.1M205.68 197.3v1.1M149.0 146.69h-1.1M207.34 197.3v1.1M149.0 145.21h-1.1M208.75 197.3v1.1M149.0 143.95h-1.1M209.96 197.3v1.1M149.0 142.87h-1.1M211.04 197.3v1.1M149.0 141.91h-1.1M212.00 197.3v2.2M149.0 141.05h-2.2M218.32 197.3v1.1M149.0 135.41h-1.1M222.02 197.3v1.1M149.0 132.10h-1.1M224.64 197.3v1.1M149.0 129.76h-1.1M226.68 197.3v1.1M149.0 127.94h-1.1M228.34 197.3v1.1M149.0 126.46h-1.1M229.75 197.3v1.1M149.0 125.20h-1.1M230.96 197.3v1.1M149.0 124.12h-1.1M232.04 197.3v1.1M149.0 123.16h-1.1M233.00 197.3v2.2M149.0 122.30h-2.2" stroke="#222" stroke-width="0.6" fill="none"/>
<text font-size="5.8" text-anchor="middle" x="149.7" y="207.0" stroke="#111" stroke-width="0.3">10<tspan dx="0.3" dy="-2.4" font-size="5">0</tspan></text>
<g transform="translate(144.6,197.1) rotate(-90)"><text font-size="5" text-anchor="middle" x="0" y="0" stroke="#111" stroke-width="0.3">10<tspan dx="0.5" dy="-2.3" font-size="4.6">0</tspan></text></g>
<text font-size="5.8" text-anchor="middle" x="170.7" y="207.0" stroke="#111" stroke-width="0.3">10<tspan dx="0.3" dy="-2.4" font-size="5">1</tspan></text>
<g transform="translate(144.6,178.4) rotate(-90)"><text font-size="5" text-anchor="middle" x="0" y="0" stroke="#111" stroke-width="0.3">10<tspan dx="0.5" dy="-2.3" font-size="4.6">1</tspan></text></g>
<text font-size="5.8" text-anchor="middle" x="191.7" y="207.0" stroke="#111" stroke-width="0.3">10<tspan dx="0.3" dy="-2.4" font-size="5">2</tspan></text>
<g transform="translate(144.6,159.6) rotate(-90)"><text font-size="5" text-anchor="middle" x="0" y="0" stroke="#111" stroke-width="0.3">10<tspan dx="0.5" dy="-2.3" font-size="4.6">2</tspan></text></g>
<text font-size="5.8" text-anchor="middle" x="212.7" y="207.0" stroke="#111" stroke-width="0.3">10<tspan dx="0.3" dy="-2.4" font-size="5">3</tspan></text>
<g transform="translate(144.6,140.9) rotate(-90)"><text font-size="5" text-anchor="middle" x="0" y="0" stroke="#111" stroke-width="0.3">10<tspan dx="0.5" dy="-2.3" font-size="4.6">3</tspan></text></g>
<text font-size="5.8" text-anchor="middle" x="233.7" y="207.0" stroke="#111" stroke-width="0.3">10<tspan dx="0.3" dy="-2.4" font-size="5">4</tspan></text>
<g transform="translate(144.6,122.1) rotate(-90)"><text font-size="5" text-anchor="middle" x="0" y="0" stroke="#111" stroke-width="0.3">10<tspan dx="0.5" dy="-2.3" font-size="4.6">4</tspan></text></g>
<g transform="translate(138.3,170.1) rotate(-90) scale(1,1.15)"><text font-size="9.85" text-anchor="middle">IL17 -PE</text></g>
<text class="b" font-size="10.2" text-anchor="end" x="231.3" y="134.8">20%</text>
<text font-size="10.6" x="39.6" y="224.7">CD4-FITC</text>
<path d="M95 221.9H215" stroke="#111" stroke-width="1.5" fill="none"/>
<path d="M214.6 218.3L221.4 221.9L214.6 225.6Z" fill="#111"/>
<path d="M302.2 26.4V182.2" stroke="#000" stroke-width="1.9" fill="none"/>
<path d="M301.3 181.4H501.1" stroke="#000" stroke-width="1.6" fill="none"/>
<path d="M301.7 181.4h-2.0M302.6 181.8v2.0M301.7 150.4h-2.0M342.1 181.8v2.0M301.7 119.5h-2.0M381.7 181.8v2.0M301.7 88.5h-2.0M421.2 181.8v2.0M301.7 57.5h-2.0M460.8 181.8v2.0M301.7 26.4h-2.0M500.3 181.8v2.0" stroke="#000" stroke-width="1" fill="none"/>
<text font-size="10.3" text-anchor="end" x="292.0" y="186.4">0</text>
<text font-size="10.3" text-anchor="end" x="293.2" y="155.4">20</text>
<text font-size="10.3" text-anchor="end" x="293.2" y="124.5">40</text>
<text font-size="10.3" text-anchor="end" x="293.2" y="93.5">60</text>
<text font-size="10.3" text-anchor="end" x="293.2" y="62.5">80</text>
<text font-size="10.3" text-anchor="end" x="294.5" y="31.4">100</text>
<text font-size="10.3" text-anchor="middle" x="302.5" y="198.8">0</text>
<text font-size="10.3" text-anchor="middle" x="343.2" y="198.8">20</text>
<text font-size="10.3" text-anchor="middle" x="382.6" y="198.8">40</text>
<text font-size="10.3" text-anchor="middle" x="422.5" y="198.8">60</text>
<text font-size="10.3" text-anchor="middle" x="461.8" y="198.8">80</text>
<text font-size="10.3" text-anchor="middle" x="502.8" y="198.8">100</text>
<text class="b" font-size="10.43" x="333.5" y="214.5">days after tumor challenge</text>
<g transform="translate(271,96.1) rotate(-90)"><text class="b" font-size="10.3" text-anchor="middle">Survival (%)</text></g>
<path d="M302.2 26.7H499.9" stroke="#000" stroke-width="1.9" fill="none"/>
<path d="M363.2 26.4V104.0H366.7V142.7H373.2V181.4" stroke="#000" stroke-width="1.6" fill="none"/>
<rect x="360.1" y="23.3" width="6.2" height="6.2" fill="#fff" stroke="#000" stroke-width="1.3"/>
<rect x="360.1" y="100.9" width="6.2" height="6.2" fill="#fff" stroke="#000" stroke-width="1.3"/>
<rect x="363.6" y="100.9" width="6.2" height="6.2" fill="#fff" stroke="#000" stroke-width="1.3"/>
<rect x="363.6" y="139.6" width="6.2" height="6.2" fill="#fff" stroke="#000" stroke-width="1.3"/>
<rect x="370.1" y="139.6" width="6.2" height="6.2" fill="#fff" stroke="#000" stroke-width="1.3"/>
<rect x="370.1" y="178.3" width="6.2" height="6.2" fill="#fff" stroke="#000" stroke-width="1.3"/>
<rect x="297.7" y="22.8" width="7.5" height="7.9" fill="#000"/>
<circle cx="500" cy="26.5" r="4" fill="#000"/>
<path d="M397.3 74.9H419.4M397.3 92.6H419.4" stroke="#000" stroke-width="1.7" fill="none"/>
<circle cx="408.2" cy="74.8" r="3.3" fill="#000"/>
<rect x="405.3" y="89.9" width="5.6" height="5.6" fill="#fff" stroke="#000" stroke-width="1.3"/>
<text font-size="10.3" x="421.8" y="78.9">CT26-EpCAM + Th1</text>
<text font-size="10.3" x="421.8" y="96.6">CT26-EpCAM control</text>
<path d="M62.6 269.8V444.6" stroke="#000" stroke-width="2" fill="none"/>
<path d="M61.6 443.8H241.1" stroke="#000" stroke-width="1.6" fill="none"/>
<path d="M62.0 443.8h-2.4M62.0 409.0h-2.4M62.0 374.2h-2.4M62.0 339.4h-2.4M62.0 304.6h-2.4M62.0 269.8h-2.4M62.5 444.2v2.2M92.1 444.2v2.2M121.8 444.2v2.2M151.4 444.2v2.2M181.0 444.2v2.2M210.7 444.2v2.2M240.3 444.2v2.2" stroke="#000" stroke-width="0.9" fill="none"/>
<text font-size="10.3" text-anchor="end" x="53.9" y="448.8">0</text>
<text font-size="10.3" text-anchor="end" x="55.0" y="414.0">20</text>
<text font-size="10.3" text-anchor="end" x="55.0" y="379.2">40</text>
<text font-size="10.3" text-anchor="end" x="55.0" y="344.4">60</text>
<text font-size="10.3" text-anchor="end" x="55.0" y="309.6">80</text>
<text font-size="10.3" text-anchor="end" x="55.6" y="274.8">100</text>
<text font-size="10.3" text-anchor="middle" x="63.0" y="461.3">0</text>
<text font-size="10.3" text-anchor="middle" x="93.0" y="461.3">20</text>
<text font-size="10.3" text-anchor="middle" x="122.5" y="461.3">40</text>
<text font-size="10.3" text-anchor="middle" x="152.0" y="461.3">60</text>
<text font-size="10.3" text-anchor="middle" x="181.7" y="461.3">80</text>
<text font-size="10.3" text-anchor="middle" x="212.2" y="461.3">100</text>
<text font-size="10.3" text-anchor="middle" x="242.4" y="461.3">120</text>
<text class="b" font-size="10.43" x="96" y="483">days after rechallenge</text>
<g transform="translate(28.9,360.5) rotate(-90)"><text class="b" font-size="10.3" text-anchor="middle">survival (%)</text></g>
<path d="M62.5 269.7H240.4" stroke="#000" stroke-width="1.8" fill="none"/>
<path transform="translate(0.0,0)" d="M57.3 268.4Q57.3 267.6 58.3 267.8L60.5 268.6H64L66.2 267.8Q67.1 267.6 67.1 268.5V273.4H57.3Z" fill="#000"/>
<path transform="translate(178.3,0)" d="M57.3 268.4Q57.3 267.6 58.3 267.8L60.5 268.6H64L66.2 267.8Q67.1 267.6 67.1 268.5V273.4H57.3Z" fill="#000"/>
<path d="M62.5 273.05H240.4" stroke="#000" stroke-width="1.6" fill="none"/>
<path d="M236.5 273.4L240.5 269.4L244.5 273.4L240.5 277.4Z" fill="#000" stroke="#000" stroke-width="1.1"/>
<path d="M62.5 275.1H164.6" stroke="#8a8a8a" stroke-width="2.2" fill="none"/>
<path d="M62.5 276.9H164.6V327H240.4" stroke="#000" stroke-width="1.8" fill="none"/>
<circle cx="62.3" cy="275.7" r="3.7" fill="#fff" stroke="#000" stroke-width="1.2"/>
<circle cx="164.6" cy="275.8" r="3.9" fill="#fff" stroke="#000" stroke-width="1.2"/>
<circle cx="164.6" cy="327.0" r="3.9" fill="#fff" stroke="#000" stroke-width="1.2"/>
<circle cx="240.4" cy="326.8" r="3.9" fill="#fff" stroke="#000" stroke-width="1.2"/>
<path d="M62.5 280.1H105.7V313.2H124.4V357.2H139.2V400.4H169.1V444.1" stroke="#000" stroke-width="1.9" fill="none"/>
<path d="M58.2 280.1L62.1 276.2L66.0 280.1L62.1 284.0Z" fill="#fff" stroke="#000" stroke-width="1.1"/>
<path d="M101.8 280.1L105.7 276.2L109.6 280.1L105.7 284.0Z" fill="#fff" stroke="#000" stroke-width="1.1"/>
<path d="M101.8 313.2L105.7 309.3L109.6 313.2L105.7 317.1Z" fill="#fff" stroke="#000" stroke-width="1.1"/>
<path d="M120.5 313.2L124.4 309.3L128.3 313.2L124.4 317.1Z" fill="#fff" stroke="#000" stroke-width="1.1"/>
<path d="M120.5 357.2L124.4 353.3L128.3 357.2L124.4 361.1Z" fill="#fff" stroke="#000" stroke-width="1.1"/>
<path d="M135.3 357.2L139.2 353.3L143.1 357.2L139.2 361.1Z" fill="#fff" stroke="#000" stroke-width="1.1"/>
<path d="M135.3 400.4L139.2 396.5L143.1 400.4L139.2 404.3Z" fill="#fff" stroke="#000" stroke-width="1.1"/>
<path d="M165.2 400.4L169.1 396.5L173.0 400.4L169.1 404.3Z" fill="#fff" stroke="#000" stroke-width="1.1"/>
<path d="M165.2 444.1L169.1 440.2L173.0 444.1L169.1 448.0Z" fill="#fff" stroke="#000" stroke-width="1.1"/>
<path d="M280.3 275.0H301.7" stroke="#000" stroke-width="1.6" fill="none"/>
<circle cx="291.0" cy="275.0" r="2.9" fill="#000" stroke="#000" stroke-width="1.2"/>
<text font-size="10.3" x="304.8" y="278.9">CT26-EpCAM</text>
<path d="M280.3 289.8H301.7" stroke="#000" stroke-width="1.6" fill="none"/>
<path d="M287.6 289.8L291.0 286.4L294.4 289.8L291.0 293.2Z" fill="#000" stroke="#000" stroke-width="1.1"/>
<text font-size="10.3" x="304.8" y="293.7">CT26 control</text>
<path d="M280.3 304.6H301.7" stroke="#000" stroke-width="1.6" fill="none"/>
<circle cx="291.0" cy="304.6" r="3.0" fill="#fff" stroke="#000" stroke-width="1.2"/>
<text font-size="10.3" x="304.8" y="308.5">A20-EpCAM</text>
<path d="M280.3 319.4H301.7" stroke="#000" stroke-width="1.6" fill="none"/>
<path d="M287.6 319.4L291.0 316.0L294.4 319.4L291.0 322.8Z" fill="#fff" stroke="#000" stroke-width="1.1"/>
<text font-size="10.3" x="304.8" y="323.3">A20 control</text>
</svg>
</body></html>
